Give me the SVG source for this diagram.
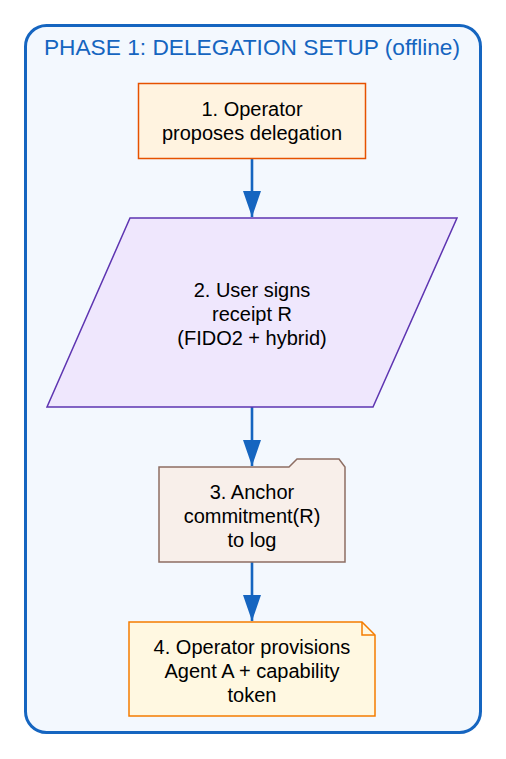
<svg xmlns="http://www.w3.org/2000/svg" width="506" height="759" viewBox="0 0 506 759">
<style>
.t{font-family:"Liberation Sans",Arial,sans-serif;font-size:20px;fill:#000;text-anchor:middle}
.title{font-family:"Liberation Sans",Arial,sans-serif;font-size:22.7px;fill:#1565c0;text-anchor:middle}
.e{stroke:#1565c0;stroke-width:2.6;fill:none}
</style>
<defs>
<marker id="ah" viewBox="0 0 26 18" refX="26" refY="9" markerWidth="26" markerHeight="18" markerUnits="userSpaceOnUse" orient="auto">
<path d="M0,0 L26,9 L0,18 Z" fill="#1565c0"/>
</marker>
</defs>
<rect width="506" height="759" fill="#fff"/>
<g id="cluster">
<rect x="25.5" y="25.5" width="455" height="707" rx="21" fill="#f3f8fe" stroke="#1565c0" stroke-width="3"/>
<text class="title" x="252" y="55">PHASE 1: DELEGATION SETUP (offline)</text>
</g>
<g id="edges">
<path class="e" d="M252,158 L252,217" marker-end="url(#ah)"/>
<path class="e" d="M252,407 L252,466" marker-end="url(#ah)"/>
<path class="e" d="M252,562 L252,621" marker-end="url(#ah)"/>
</g>
<g id="n1">
<rect x="138.5" y="83.5" width="227" height="75" fill="#fff3e0" stroke="#e65100" stroke-width="1.5"/>
<text class="t" x="252" y="116">1. Operator</text>
<text class="t" x="252" y="140">proposes delegation</text>
</g>
<g id="n2">
<path d="M130,218 L457,218 L373,407 L47,407 Z" fill="#efe7fd" stroke="#5e35b1" stroke-width="1.5"/>
<text class="t" x="252" y="297">2. User signs</text>
<text class="t" x="252" y="321">receipt R</text>
<text class="t" x="252" y="345">(FIDO2 + hybrid)</text>
</g>
<g id="n3">
<path d="M159,467 L289,467 L297,459 L339,459 L345,467 L345,562 L159,562 Z" fill="#f8efea" stroke="#8d6e63" stroke-width="1.5"/>
<text class="t" x="252" y="499">3. Anchor</text>
<text class="t" x="252" y="523">commitment(R)</text>
<text class="t" x="252" y="547">to log</text>
</g>
<g id="n4">
<path d="M129,622 L362,622 L375,635 L375,716 L129,716 Z" fill="#fff8e1" stroke="#f57c00" stroke-width="1.5"/>
<path d="M362,622 L362,635 L375,635" fill="none" stroke="#f57c00" stroke-width="1.5"/>
<text class="t" x="252" y="654">4. Operator provisions</text>
<text class="t" x="252" y="678">Agent A + capability</text>
<text class="t" x="252" y="702">token</text>
</g>
</svg>
